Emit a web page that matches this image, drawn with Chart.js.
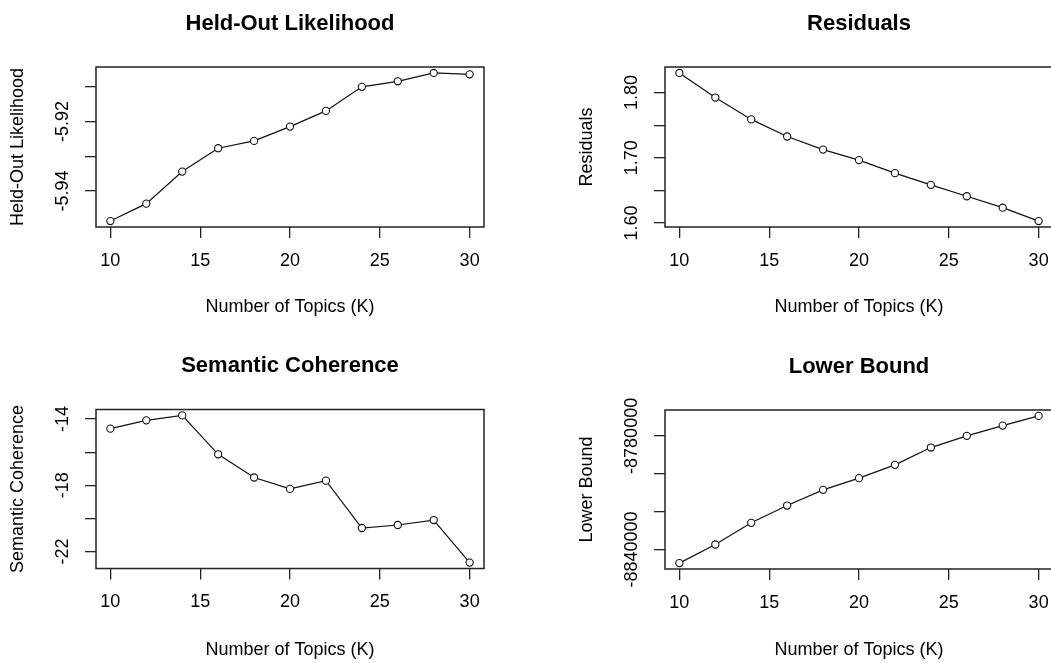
<!DOCTYPE html>
<html><head><meta charset="utf-8">
<script src="https://cdn.jsdelivr.net/npm/chart.js@4/dist/chart.umd.min.js"></script>
<style>
html,body{margin:0;padding:0;background:#fff;}
#page{position:relative;width:1051px;height:663px;overflow:hidden;background:#fff;}
canvas{position:absolute;}
</style></head><body>
<div id="page">
<canvas id="c1"></canvas><canvas id="c2"></canvas><canvas id="c3"></canvas><canvas id="c4"></canvas>
</div>
<script>
// ---- data ----
const topicsK = [10, 12, 14, 16, 18, 20, 22, 24, 26, 28, 30];
const heldOutLikelihood = [-5.9486, -5.9436, -5.9344, -5.9277, -5.9256, -5.9215, -5.9170, -5.9101, -5.9085, -5.9061, -5.9065];
const residuals = [1.830, 1.7923, 1.7588, 1.7326, 1.7126, 1.6965, 1.6765, 1.6586, 1.6411, 1.6236, 1.6031];
const semanticCoherence = [-14.58, -14.08, -13.78, -16.13, -17.53, -18.22, -17.72, -20.58, -20.40, -20.10, -22.67];
const lowerBound = [-8847177, -8837361, -8825910, -8816780, -8808500, -8802320, -8795300, -8786170, -8780000, -8774570, -8769450];

const xTickValues = [10, 15, 20, 25, 30];
const xTickLabels = ['10', '15', '20', '25', '30'];
const heldOutTicks = [-5.94, -5.93, -5.92, -5.91];
const heldOutTickLabels = ['-5.94', '', '-5.92', ''];
const residualTicks = [1.60, 1.65, 1.70, 1.75, 1.80];
const residualTickLabels = ['1.60', '', '1.70', '', '1.80'];
const coherenceTicks = [-22, -20, -18, -16, -14];
const coherenceTickLabels = ['-22', '', '-18', '', '-14'];
const boundTicks = [-8840000, -8820000, -8800000, -8780000];
const boundTickLabels = ['-8840000', '', '', '-8780000'];

const panelTitles = ['Held-Out Likelihood', 'Residuals', 'Semantic Coherence', 'Lower Bound'];
const yAxisTitles = ['Held-Out Likelihood', 'Residuals', 'Semantic Coherence', 'Lower Bound'];
const xAxisTitle = 'Number of Topics (K)';

// ---- layout ----
const FONT = "'Liberation Sans', Arial, sans-serif";
const TICK_SIZE = 18, LAB_SIZE = 18, MAIN_SIZE = 22, LH = 1.2;
const panels = [
  {id:'c1', values: heldOutLikelihood, ticks: heldOutTicks, labels: heldOutTickLabels,
   canvas:{x:0, y:0, w:525, h:331}, box:{l:96, t:67, r:484, b:227}, xlabOff:80},
  {id:'c2', values: residuals, ticks: residualTicks, labels: residualTickLabels,
   canvas:{x:525, y:0, w:560, h:331}, box:{l:665, t:67, r:1053, b:227}, xlabOff:80},
  {id:'c3', values: semanticCoherence, ticks: coherenceTicks, labels: coherenceTickLabels,
   canvas:{x:0, y:331, w:525, h:332}, box:{l:96, t:409.5, r:484, b:568.5}, xlabOff:81.5},
  {id:'c4', values: lowerBound, ticks: boundTicks, labels: boundTickLabels,
   canvas:{x:525, y:331, w:560, h:332}, box:{l:665, t:410, r:1053, b:569}, xlabOff:81.5}
];

const boxPlugin = {
  id: 'rbox',
  afterDatasetsDraw(chart) {
    const {ctx, chartArea: a} = chart;
    ctx.save();
    ctx.strokeStyle = '#222';
    ctx.lineWidth = 1.5;
    ctx.strokeRect(a.left, a.top, a.right - a.left, a.bottom - a.top);
    ctx.restore();
  }
};

const mctx = document.createElement('canvas').getContext('2d');
mctx.font = TICK_SIZE + 'px ' + FONT;

function rRange(vals) {
  const lo = Math.min(...vals), hi = Math.max(...vals), e = 0.04 * (hi - lo);
  return [lo - e, hi + e];
}

panels.forEach((p, k) => {
  const cv = document.getElementById(p.id);
  cv.width = p.canvas.w; cv.height = p.canvas.h;
  cv.style.left = p.canvas.x + 'px'; cv.style.top = p.canvas.y + 'px';
  cv.style.width = p.canvas.w + 'px'; cv.style.height = p.canvas.h + 'px';
  const L = p.box.l - p.canvas.x, T = p.box.t - p.canvas.y, R = p.box.r - p.canvas.x, B = p.box.b - p.canvas.y;
  const xAxisH = 92, tl = 11;
  const widest = Math.max(...p.labels.map(s => mctx.measureText(s).width));
  const yPad = 33 - tl - widest / 2;
  const xPad = 34 - tl - TICK_SIZE * LH / 2;
  const titleLH = MAIN_SIZE * LH;
  const titleTop = (T - 43.5) - titleLH / 2;
  const titleBottom = T - titleTop - titleLH;
  const labLH = LAB_SIZE * LH;
  const ylabPad = (L - 78) - labLH / 2;
  const xlabPad = xAxisH - p.xlabOff - labLH / 2;
  const [xlo, xhi] = rRange(topicsK);
  const [ylo, yhi] = rRange(p.values);
  const tickFont = {family: FONT, size: TICK_SIZE};
  const labFont = {family: FONT, size: LAB_SIZE};

  new Chart(cv, {
    type: 'line',
    data: {
      datasets: [{
        data: topicsK.map((x, i) => ({x, y: p.values[i]})),
        borderColor: '#111', borderWidth: 1.2, tension: 0,
        pointRadius: 3.6, pointHoverRadius: 3.6, pointBorderWidth: 1.1,
        pointBorderColor: '#111', pointBackgroundColor: '#fff', pointStyle: 'circle'
      }]
    },
    options: {
      responsive: false, animation: false, devicePixelRatio: 1,
      events: [],
      layout: {padding: {left: 0, top: 0, right: p.canvas.w - R, bottom: p.canvas.h - B - xAxisH}},
      plugins: {
        legend: {display: false}, tooltip: {enabled: false},
        title: {display: true, text: panelTitles[k], fullSize: false, color: '#000',
                font: {family: FONT, size: MAIN_SIZE, weight: 'bold'},
                padding: {top: titleTop, bottom: titleBottom}}
      },
      scales: {
        x: {
          type: 'linear', position: 'bottom', min: xlo, max: xhi,
          afterBuildTicks: s => { s.ticks = xTickValues.map(v => ({value: v})); },
          afterFit: s => { s.height = xAxisH; },
          ticks: {autoSkip: false, minRotation: 0, maxRotation: 0, padding: xPad, color: '#000', font: tickFont,
                  callback: (v, i) => xTickLabels[i]},
          grid: {drawOnChartArea: false, drawTicks: true, tickLength: tl, color: '#222', lineWidth: 1.3},
          border: {display: false},
          title: {display: true, text: xAxisTitle, color: '#000', font: labFont, padding: {top: 0, bottom: xlabPad}}
        },
        y: {
          type: 'linear', position: 'left', min: ylo, max: yhi,
          afterBuildTicks: s => { s.ticks = p.ticks.map(v => ({value: v})); },
          afterFit: s => { s.width = L; },
          ticks: {autoSkip: false, minRotation: 90, maxRotation: 90, crossAlign: 'center', padding: yPad,
                  color: '#000', font: tickFont, callback: (v, i) => p.labels[i]},
          grid: {drawOnChartArea: false, drawTicks: true, tickLength: tl, color: '#222', lineWidth: 1.3},
          border: {display: false},
          title: {display: true, text: yAxisTitles[k], color: '#000', font: labFont, padding: {top: ylabPad, bottom: 0}}
        }
      }
    },
    plugins: [boxPlugin]
  });
});
</script>
</body></html>
